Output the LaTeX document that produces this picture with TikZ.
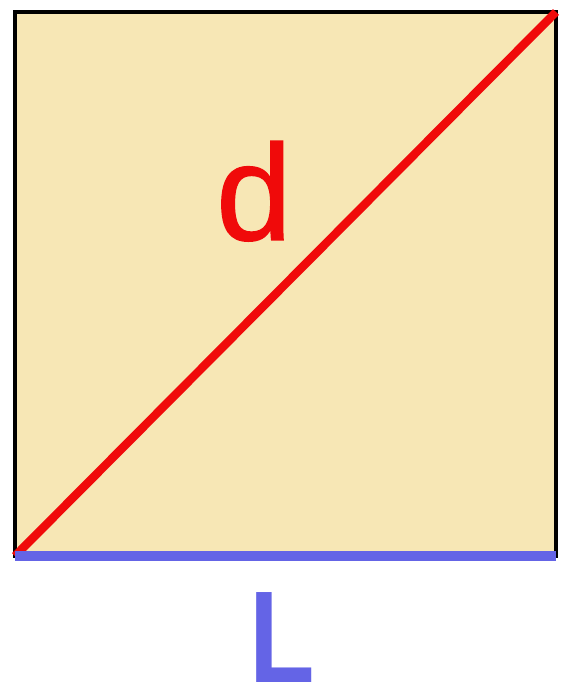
\documentclass[tikz,border=0pt]{standalone}
\usepackage{fontspec}
\setsansfont{Liberation Sans}
\newfontfamily\lenfont[FakeStretch=0.82]{Liberation Sans}
\newfontfamily\diagfont[FakeBold=1]{Liberation Sans}
\definecolor{sqfill}{HTML}{F7E7B5}
\definecolor{diagred}{HTML}{F00A0A}
\definecolor{sideblue}{HTML}{6464E6}
\begin{document}
\begin{tikzpicture}[x=0.025cm,y=0.025cm,
 letter/.style={inner sep=0pt,anchor=base}]
\useasboundingbox (0,0) rectangle (568,687);
\coordinate (sw) at (15,131);
\coordinate (ne) at (556,675);
\coordinate (se) at (556,131);
\draw[line width=3pt,fill=sqfill] (sw) rectangle (ne);
\draw[line width=6pt,diagred] (sw)--(ne);
\draw[line width=7pt,sideblue] (sw)--(se);
\node[letter,text=diagred,font=\diagfont\fontsize{97}{97}\selectfont] (d) at (254,447) {d};
\node[letter,text=sideblue,font=\lenfont\bfseries\fontsize{93}{93}\selectfont] (len) at (282,4) {L};
\end{tikzpicture}
\end{document}
